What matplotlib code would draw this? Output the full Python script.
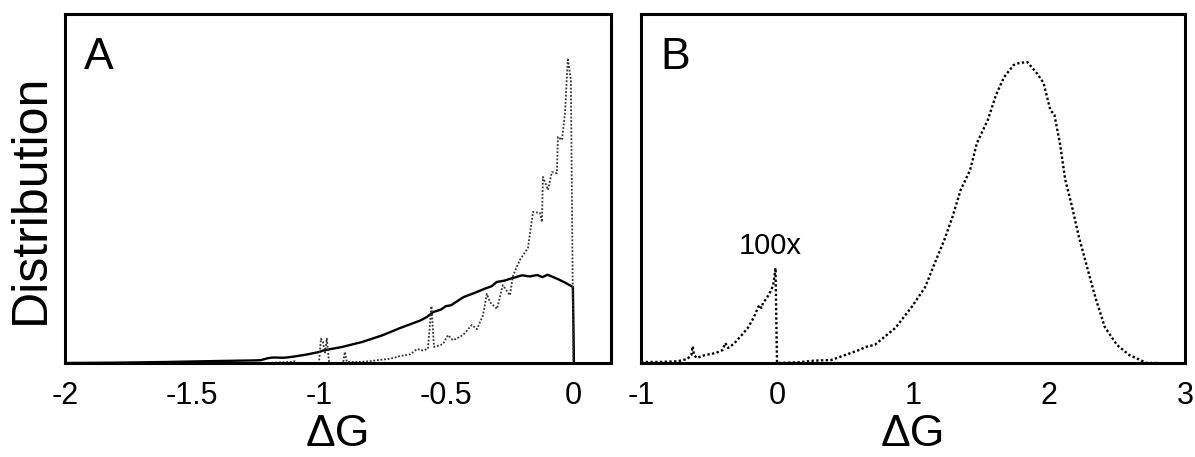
import matplotlib
matplotlib.use("Agg")
import matplotlib.pyplot as plt

plt.rcParams['font.family'] = ['Liberation Sans', 'DejaVu Sans']

# ---------------- data (arbitrary units, 0..100 = plot height) ----------------
# Panel A, solid curve
a_solid_x = [-2.0, -1.8, -1.6, -1.4, -1.25, -1.23, -1.2, -1.18, -1.14, -1.11, -1.05, -1.0,
             -0.98, -0.91, -0.83, -0.75, -0.68, -0.60, -0.575, -0.55, -0.52, -0.50, -0.48,
             -0.46, -0.43, -0.39, -0.35, -0.32, -0.30, -0.27, -0.25, -0.20, -0.17, -0.14,
             -0.12, -0.10, -0.06, -0.03, 0.0, 0.004]
a_solid_y = [0.0, 0.09, 0.29, 0.57, 0.75, 0.80, 1.4, 1.58, 1.5, 1.72, 2.4, 3.15,
             3.64, 4.58, 6.02, 7.94, 10.03, 12.2, 13.18, 14.61, 15.3, 16.3, 16.53,
             17.5, 18.91, 20.0, 21.2, 22.0, 23.21, 23.6, 24.07, 25.13, 24.8, 25.21,
             24.6, 25.3, 24.07, 23.0, 21.77, 0.0]

# Panel A, dotted curve
a_dot_x = [-1.2, -1.114, -1.094, -1.085, -1.0, -0.992, -0.984, -0.976, -0.969, -0.96,
           -0.95, -0.905, -0.898, -0.89, -0.84, -0.80, -0.76, -0.72, -0.68, -0.64,
           -0.614, -0.591, -0.571, -0.557, -0.547, -0.512, -0.492, -0.472, -0.433,
           -0.398, -0.378, -0.354, -0.339, -0.327, -0.299, -0.276, -0.248, -0.236,
           -0.209, -0.177, -0.157, -0.130, -0.122, -0.118, -0.098, -0.083, -0.063,
           -0.059, -0.043, -0.031, -0.020, -0.008, 0.002]
a_dot_y = [0.0, 0.3, 0.5, 0.0, 0.0, 7.0, 6.0, 3.0, 7.0, 0.0,
           0.0, 0.0, 3.2, 0.3, 0.3, 0.5, 0.9, 1.2, 2.0, 2.5,
           4.0, 3.6, 4.0, 16.3, 4.6, 5.4, 8.0, 6.5, 8.0,
           10.9, 9.7, 13.7, 19.8, 17.5, 15.5, 22.3, 19.4, 25.0,
           29.5, 33.0, 43.3, 43.0, 40.4, 53.3, 49.6, 54.7, 54.4,
           64.8, 63.9, 71.6, 87.4, 81.0, 0.0]

# Panel B, dotted curve (small peak scaled 100x, then main peak)
b_x = [-1.0, -0.87, -0.73, -0.66, -0.63, -0.62, -0.61, -0.59, -0.536, -0.45, -0.40,
       -0.38, -0.36, -0.34, -0.30, -0.257, -0.215, -0.173, -0.131, -0.115, -0.103,
       -0.075, -0.047, -0.028, -0.011, 0.0,
       0.004, 0.16, 0.27, 0.40, 0.44, 0.61, 0.65, 0.72, 0.87, 0.99, 1.09, 1.16, 1.23,
       1.29, 1.35, 1.42, 1.47, 1.55, 1.61, 1.67, 1.74, 1.78, 1.84, 1.91, 1.96, 2.01,
       2.04, 2.08, 2.12, 2.17, 2.22, 2.28, 2.34, 2.41, 2.50, 2.59, 2.72, 2.8]
b_y = [0.29, 0.29, 0.49, 1.15, 2.29, 4.78, 2.29, 1.43, 2.21, 2.87, 3.72,
       5.73, 4.30, 4.78, 6.22, 8.11, 10.03, 12.89, 16.62, 15.76, 17.19,
       18.62, 20.54, 22.35, 27.22, 0.0,
       0.0, 0.2, 0.66, 0.86, 1.43, 3.81, 4.58, 5.24, 10.03, 16.04, 21.77, 28.65, 35.24,
       41.83, 49.56, 55.29, 63.03, 69.62, 76.78, 81.94, 85.38, 85.95, 86.24, 83.09, 80.22, 72.48,
       71.05, 63.03, 52.43, 44.69, 36.10, 27.50, 18.91, 10.31, 5.16, 2.29, 0.0, 0.0]

a_ticks = [-2, -1.5, -1, -0.5, 0]
a_ticklabels = ["-2", "-1.5", "-1", "-0.5", "0"]
b_ticks = [-1, 0, 1, 2, 3]
b_ticklabels = ["-1", "0", "1", "2", "3"]

# ---------------- figure ----------------
fig = plt.figure(figsize=(11.95, 4.57), dpi=100)
axA = fig.add_axes([65/1195, 1 - 363/457, 546/1195, 349/457])
axB = fig.add_axes([641/1195, 1 - 363/457, 544/1195, 349/457])

dotted = (0, (1.0, 1.0))

axA.plot(a_solid_x, a_solid_y, color='black', lw=1.7, solid_joinstyle='round')
axA.plot(a_dot_x, a_dot_y, color='#333333', lw=1.3, linestyle=dotted)
axB.plot(b_x, b_y, color='black', lw=1.7, linestyle=dotted)

axA.set_xlim(-2, 0.15)
axB.set_xlim(-1, 3)
for ax in (axA, axB):
    ax.set_ylim(0, 100)
    ax.set_yticks([])
    for s in ax.spines.values():
        s.set_linewidth(2.2)
    ax.tick_params(axis='x', length=0, pad=13, labelsize=22)
    ax.set_xlabel("ΔG", fontsize=32, labelpad=2)

axA.set_xticks(a_ticks, a_ticklabels)
axB.set_xticks(b_ticks, b_ticklabels)

axA.set_ylabel("Distribution", fontsize=36)
axA.yaxis.set_label_coords(-0.02, 0.47)

axA.text(0.035, 0.935, "A", transform=axA.transAxes, fontsize=32, va='top', ha='left')
axB.text(0.035, 0.935, "B", transform=axB.transAxes, fontsize=32, va='top', ha='left')
axB.text(-0.05, 29.5, "100x", fontsize=21, ha='center', va='bottom')

fig.savefig("out.png", dpi=100)
